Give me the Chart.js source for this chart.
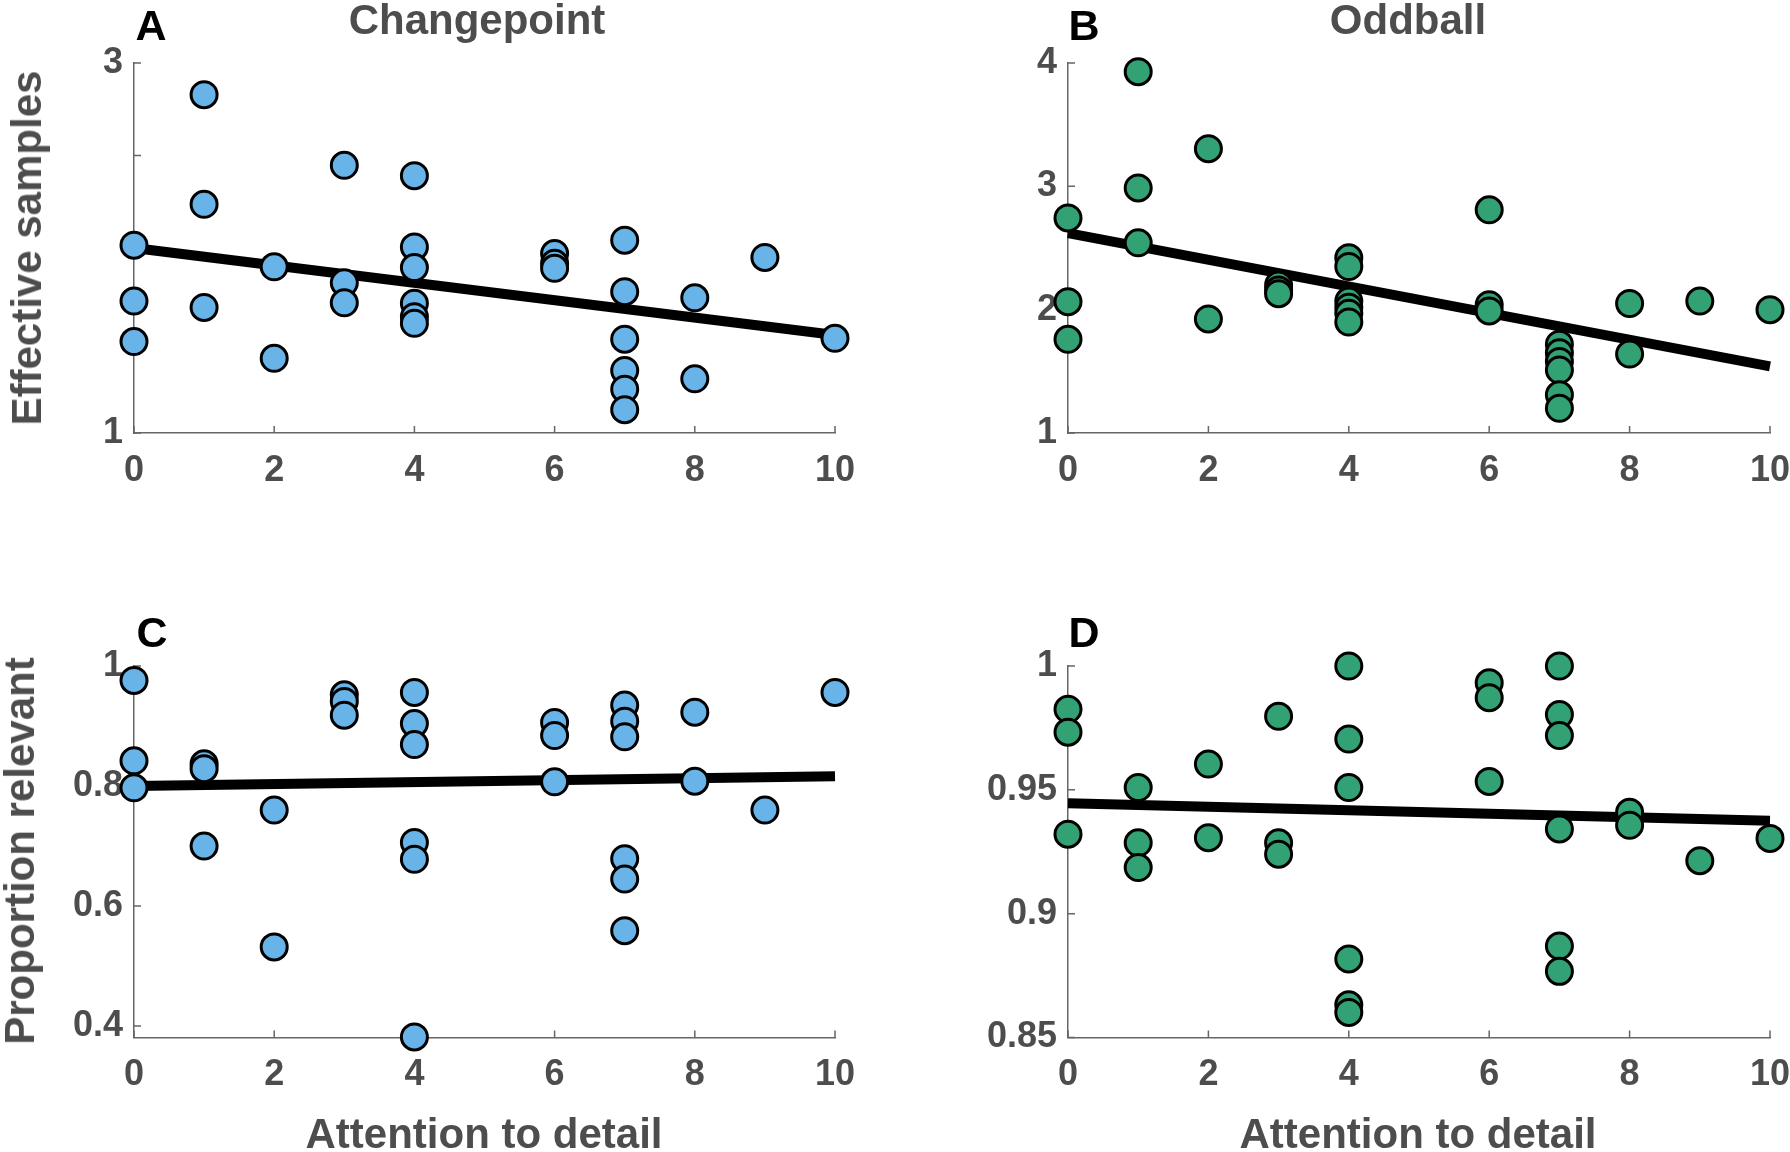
<!DOCTYPE html>
<html>
<head>
<meta charset="utf-8">
<script src="https://cdn.jsdelivr.net/npm/chart.js@4.4.1/dist/chart.umd.min.js"></script>
<style>
  body { margin: 0; background: #fff; }
  #fig { position: relative; width: 1790px; height: 1152px; overflow: hidden;
         font-family: "Liberation Sans", Arial, sans-serif; font-weight: bold; }
  canvas { position: absolute; }
  .txt { position: absolute; transform: translate(-50%, -50%); line-height: 1; white-space: nowrap; color: #4d4d4d; }
  .letter { color: #000; font-size: 43px; }
  .title { font-size: 42px; }
  .ylab { font-size: 42px; transform: translate(-50%, -50%) rotate(-90deg); }
  .xlab { font-size: 42px; }
</style>
</head>
<body>
<div id="fig">
  <canvas id="panelA" width="895" height="560" style="left:0;top:0"></canvas>
  <canvas id="panelB" width="895" height="560" style="left:895px;top:0"></canvas>
  <canvas id="panelC" width="895" height="592" style="left:0;top:560px"></canvas>
  <canvas id="panelD" width="895" height="592" style="left:895px;top:560px"></canvas>

  <div class="txt letter" style="left:151px;top:25px">A</div>
  <div class="txt letter" style="left:1084px;top:25px">B</div>
  <div class="txt letter" style="left:152px;top:632px">C</div>
  <div class="txt letter" style="left:1084px;top:632px">D</div>

  <div class="txt title" style="left:477px;top:20px">Changepoint</div>
  <div class="txt title" style="left:1408px;top:20px">Oddball</div>

  <div class="txt ylab" style="left:27px;top:248px">Effective samples</div>
  <div class="txt ylab" style="left:20px;top:851px">Proportion relevant</div>

  <div class="txt xlab" style="left:484px;top:1134px">Attention to detail</div>
  <div class="txt xlab" style="left:1418px;top:1134px">Attention to detail</div>
</div>

<script>
/* =========================
   DATA
========================= */
// attention-to-detail score of each subject (same for every panel)
const attention = [0,0,0, 1,1,1, 2,2, 3,3,3, 4,4,4,4,4,4, 6,6,6, 7,7,7,7,7,7, 8,8, 9, 10];

const cpSamples = [2.015,1.713,1.494, 2.829,2.236,1.679, 1.898,1.404, 2.447,1.812,1.704,
                   2.391,2.006,1.894,1.701,1.629,1.593, 1.970,1.917,1.890,
                   2.042,1.764,1.507,1.338,1.237,1.126, 1.731,1.293, 1.949, 1.512];
const obSamples = [2.744,2.065,1.760, 3.930,2.987,2.542, 3.305,1.925, 2.20,2.16,2.13,
                   2.42,2.35,2.07,2.02,1.97,1.90, 2.81,2.04,1.99,
                   1.72,1.65,1.58,1.51,1.31,1.20, 2.05,1.64, 2.07, 2.00];
const cpRelevant = [0.976,0.842,0.797, 0.837,0.829,0.700, 0.760,0.532, 0.952,0.941,0.918,
                    0.956,0.904,0.869,0.706,0.678,0.382, 0.906,0.884,0.807,
                    0.935,0.908,0.882,0.679,0.645,0.559, 0.923,0.808, 0.760, 0.956];
const obRelevant = [0.9825,0.9733,0.9321, 0.9509,0.9286,0.9186, 0.9604,0.9307, 0.9797,0.9286,0.9240,
                    1.0,0.9705,0.9509,0.8817,0.8632,0.8601, 0.9932,0.9872,0.9534,
                    1.0,0.9804,0.9719,0.9342,0.8869,0.8767, 0.9409,0.9357, 0.9214, 0.9304];

// regression line end points (x = 0 and x = 10)
const fitX = [0, 10];
const cpSamplesFit = [2.00, 1.53];
const obSamplesFit = [2.62, 1.54];
const cpRelevantFit = [0.800, 0.8165];
const obRelevantFit = [0.9446, 0.9375];

// ticks
const xTicks = [0, 2, 4, 6, 8, 10];
const samplesTicksA = [1, 1.5, 2, 2.5, 3];
const samplesLabelsA = ["1", "", "", "", "3"];
const samplesTicksB = [1, 2, 3, 4];
const samplesLabelsB = ["1", "2", "3", "4"];
const relevantTicksC = [0.4, 0.6, 0.8, 1];
const relevantLabelsC = ["0.4", "0.6", "0.8", "1"];
const relevantTicksD = [0.85, 0.9, 0.95, 1];
const relevantLabelsD = ["0.85", "0.9", "0.95", "1"];

const BLUE = "#68b3e7";
const GREEN = "#32a173";
const AXIS = "#666666";
const TEXT = "#4d4d4d";

/* =========================
   INWARD TICK MARKS
========================= */
const inwardTicks = {
  id: "inwardTicks",
  beforeDatasetsDraw(chart) {
    const {ctx, chartArea} = chart;
    const xs = chart.scales.x, ys = chart.scales.y;
    ctx.save();
    ctx.strokeStyle = AXIS;
    ctx.lineWidth = 1.5;
    ctx.beginPath();
    xs.ticks.forEach(t => {
      const px = xs.getPixelForValue(t.value);
      ctx.moveTo(px, chartArea.bottom);
      ctx.lineTo(px, chartArea.bottom - 7);
    });
    ys.ticks.forEach(t => {
      const py = ys.getPixelForValue(t.value);
      ctx.moveTo(chartArea.left, py);
      ctx.lineTo(chartArea.left + 7, py);
    });
    ctx.stroke();
    ctx.restore();
  }
};

/* =========================
   PANEL
========================= */
function makePanel(id, values, fit, color, yMin, yMax, yTicks, yLabels, box) {
  const font = { family: "Liberation Sans", weight: "bold", size: 36 };

  new Chart(document.getElementById(id), {
    type: "scatter",
    data: {
      datasets: [
        {
          data: attention.map((x, i) => ({ x, y: values[i] })),
          backgroundColor: color,
          borderColor: "#000",
          borderWidth: 3,
          pointRadius: 13,
          clip: false
        },
        {
          data: fitX.map((x, i) => ({ x, y: fit[i] })),
          showLine: true,
          borderColor: "#000",
          borderWidth: 10,
          borderCapStyle: "butt",
          pointRadius: 0,
          clip: false
        }
      ]
    },
    options: {
      responsive: false,
      animation: false,
      layout: { padding: { left: 0, top: box.top, right: box.right, bottom: 0 } },
      plugins: { legend: { display: false }, tooltip: { enabled: false } },
      scales: {
        x: {
          type: "linear",
          min: 0, max: 10,
          afterBuildTicks: s => { s.ticks = xTicks.map(v => ({ value: v })); },
          afterFit: s => { s.height = box.xHeight; s.paddingLeft = 0; s.paddingRight = 0; },
          grid: { display: false, drawTicks: false },
          border: { display: true, color: AXIS, width: 1.5 },
          ticks: { font, color: TEXT, padding: 16, autoSkip: false, maxRotation: 0 }
        },
        y: {
          type: "linear",
          min: yMin, max: yMax,
          afterBuildTicks: s => { s.ticks = yTicks.map(v => ({ value: v })); },
          afterFit: s => { s.width = box.yWidth; s.paddingTop = 0; s.paddingBottom = 0; },
          grid: { display: false, drawTicks: false },
          border: { display: true, color: AXIS, width: 1.5 },
          ticks: {
            font, color: TEXT, padding: 11, autoSkip: false,
            callback: (v, i) => yLabels[i]
          }
        }
      }
    },
    plugins: [inwardTicks]
  });
}

/* =========================
   INIT
========================= */
makePanel("panelA", cpSamples, cpSamplesFit, BLUE, 1, 3, samplesTicksA, samplesLabelsA,
  { top: 63, right: 60, yWidth: 134, xHeight: 127 });
makePanel("panelB", obSamples, obSamplesFit, GREEN, 1, 4, samplesTicksB, samplesLabelsB,
  { top: 63, right: 20, yWidth: 173, xHeight: 127 });
makePanel("panelC", cpRelevant, cpRelevantFit, BLUE, 0.381, 1, relevantTicksC, relevantLabelsC,
  { top: 106, right: 60, yWidth: 134, xHeight: 114.5 });
makePanel("panelD", obRelevant, obRelevantFit, GREEN, 0.85, 1, relevantTicksD, relevantLabelsD,
  { top: 106, right: 20, yWidth: 173, xHeight: 114.5 });
</script>
</body>
</html>
